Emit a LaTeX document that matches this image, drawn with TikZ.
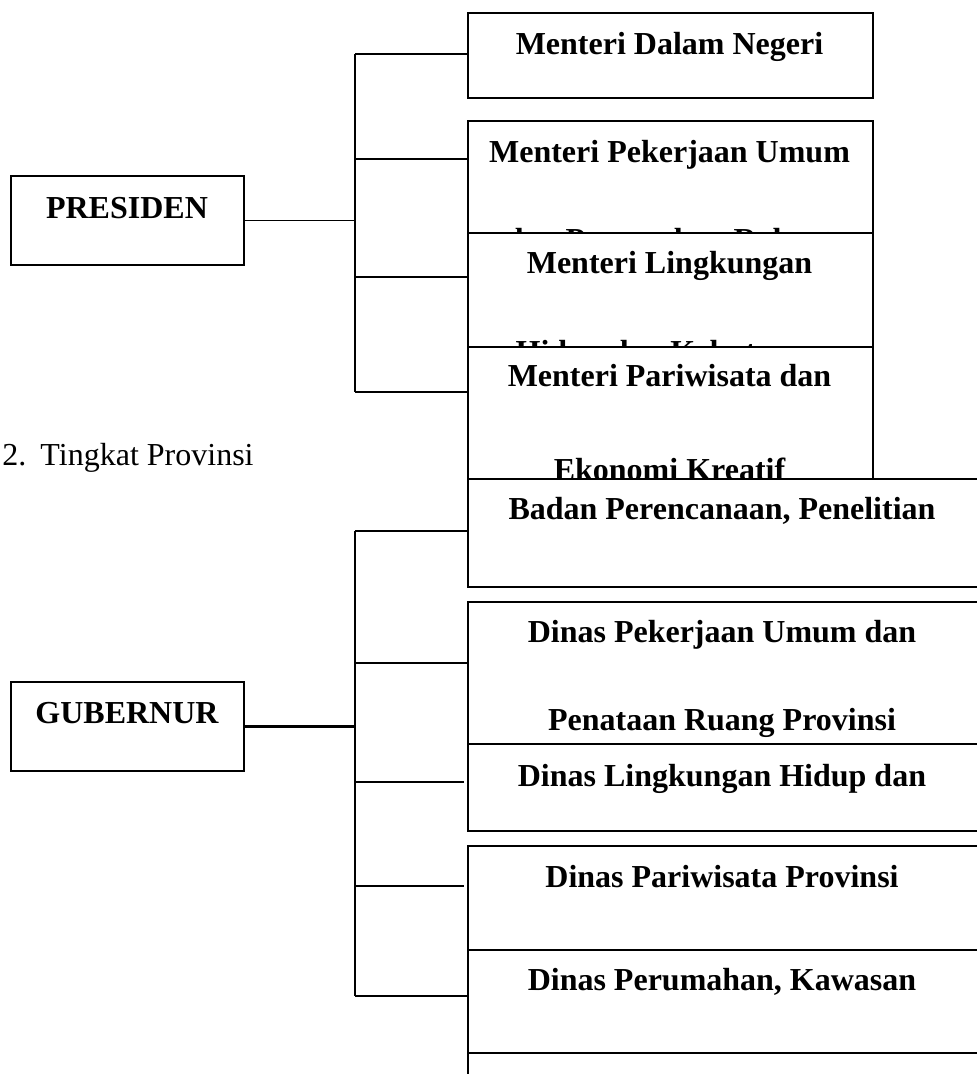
\documentclass[tikz,border=0pt]{standalone}
\usepackage{fontspec}
\setmainfont{Liberation Serif}
\usetikzlibrary{positioning}

\begin{document}
\begin{tikzpicture}[x=0.4pt,y=-0.4pt,
unitbox/.style={rectangle, draw=black, fill=white, line width=0.7pt, anchor=north west, inner sep=0pt},
pimpinan/.style={unitbox, minimum width=93.2pt, minimum height=35.6pt},
pusat/.style={unitbox, minimum width=162pt},
daerah/.style={unitbox, minimum width=205.2pt},
boxtext/.style={anchor=base, inner sep=0pt, font=\fontsize{12.8}{15}\selectfont\bfseries},
link/.style={line width=0.7pt},
]
\useasboundingbox (0,0) rectangle (977,1074);

\node[pimpinan]                        (presiden)   at (10,175)  {};
\node[boxtext]                         (president)  at (127,218) {PRESIDEN};

\coordinate (bus1a) at (355,54);
\coordinate (bus1b) at (355,159);
\coordinate (bus1c) at (355,277);
\coordinate (bus1d) at (355,392);

\node[pusat, minimum height=34pt]      (mdn)   at (467,12)  {};
\node[pusat, minimum height=52.8pt]    (mpu)   at (467,120) {};
\node[boxtext]                         (mput1) at (669.5,162) {Menteri Pekerjaan Umum};
\node[boxtext]                         (mput2) at (669.5,250) {dan Perumahan Rakyat};
\node[pusat, minimum height=52.8pt]    (mlh)   at (467,232) {};
\node[boxtext]                         (mlht1) at (669.5,273) {Menteri Lingkungan};
\node[boxtext]                         (mlht2) at (669.5,362) {Hidup dan Kehutanan};
\node[pusat, minimum height=52.8pt]    (mpar)  at (467,346) {};
\node[boxtext]                         (mpart1) at (669.5,386) {Menteri Pariwisata dan};
\node[boxtext]                         (mpart2) at (669.5,480) {Ekonomi Kreatif};
\node[boxtext]                         (mdnt)  at (669.5,54) {Menteri Dalam Negeri};

\draw[link] (presiden.east) -- (presiden.east -| bus1a);
\draw[link] (bus1a) -- (bus1d);
\draw[link] (bus1a) -- (bus1a -| mdn.west);
\draw[link] (bus1b) -- (bus1b -| mpu.west);
\draw[link] (bus1c) -- (bus1c -| mlh.west);
\draw[link] (bus1d) -- (bus1d -| mpar.west);

\node[anchor=base west, inner sep=0pt, font=\fontsize{12.8}{15}\selectfont]
      (tingkat) at (2,465) {\makebox[15.2pt][l]{2.}Tingkat Provinsi};

\node[pimpinan]                        (gubernur)   at (10,681)  {};
\node[boxtext]                         (gubernurt)  at (127,723) {GUBERNUR};

\coordinate (bus2a) at (355,531);
\coordinate (bus2b) at (355,663);
\coordinate (bus2c) at (355,782);
\coordinate (bus2d) at (355,886);
\coordinate (bus2e) at (355,996);
\coordinate (dlhkin) at (464,782);
\coordinate (disparin) at (464,886);

\node[daerah, minimum height=43.2pt]   (bappeda)  at (467,478)  {};
\node[boxtext]                         (bappedat) at (722,519)  {Badan Perencanaan, Penelitian};
\node[daerah, minimum height=60pt]     (dpupr)    at (467,601)  {};
\node[boxtext]                         (dpuprt1)  at (722,642)  {Dinas Pekerjaan Umum dan};
\node[boxtext]                         (dpuprt2)  at (722,730)  {Penataan Ruang Provinsi};
\node[daerah, minimum height=34.8pt]   (dlhk)     at (467,743)  {};
\node[boxtext]                         (dlhkt)    at (722,786)  {Dinas Lingkungan Hidup dan};
\node[daerah, minimum height=41.6pt]   (dispar)   at (467,845)  {};
\node[boxtext]                         (dispart)  at (722,887)  {Dinas Pariwisata Provinsi};
\node[daerah, minimum height=41.2pt]   (perkim)   at (467,949)  {};
\node[boxtext]                         (perkimt)  at (722,990)  {Dinas Perumahan, Kawasan};
\node[daerah, minimum height=24pt]     (bawah)    at (467,1052) {};

\draw[link, line width=1pt] (gubernur.east) -- (gubernur.east -| bus2a);
\draw[link] (bus2a) -- (bus2e);
\draw[link] (bus2a) -- (bus2a -| bappeda.west);
\draw[link] (bus2b) -- (bus2b -| dpupr.west);
\draw[link] (bus2c) -- (dlhkin);
\draw[link] (bus2d) -- (disparin);
\draw[link] (bus2e) -- (bus2e -| perkim.west);
\end{tikzpicture}
\end{document}
